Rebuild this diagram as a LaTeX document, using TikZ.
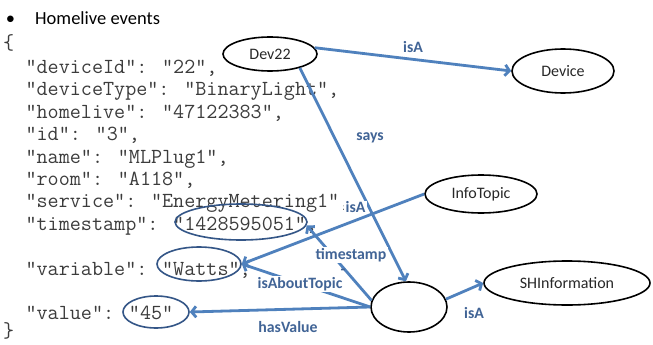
\documentclass[tikz,border=0pt]{standalone}
\usepackage{fontspec}
\setmainfont{Carlito}
\usetikzlibrary{shapes.geometric,arrows.meta}
\definecolor{conn}{RGB}{79,129,189}
\definecolor{ringblue}{RGB}{52,86,135}
\definecolor{lbl}{RGB}{65,100,150}
\definecolor{jsontext}{RGB}{60,60,60}
\definecolor{nodetext}{RGB}{40,40,40}
\begin{document}
\begin{tikzpicture}[x=1pt,y=-1pt,
  concept/.style={ellipse, draw=black, line width=1.6pt, inner sep=0pt, font=\fontsize{16}{18}\selectfont, text=nodetext},
  ring/.style={ellipse, draw=ringblue, line width=1.6pt, inner sep=0pt},
  link/.style={draw=conn, line width=2.8pt, -{Straight Barb[length=4.5pt,width=11pt]}},
  lab/.style={text=lbl, font=\bfseries\fontsize{15.8}{17}\selectfont, inner sep=1.2pt},
  json/.style={anchor=base west, inner sep=0pt, text=jsontext, font=\ttfamily\fontsize{21.5}{23}\selectfont},
]
\useasboundingbox (0,0) rectangle (653,345);
\fill[white] (0,0) rectangle (653,345);

% header
\node[anchor=base, inner sep=0pt, font=\fontsize{18.5}{20}\selectfont] (bul) at (10.5,25) {•};
\node[anchor=base west, inner sep=0pt, font=\fontsize{18.5}{20}\selectfont] (hdr) at (35,25) {Homelive events};

% JSON text
\node[json] (j0)  at (2.8,49.5)  {\{};
\node[json] (j1)  at (25.4,73.5) {"deviceId": "22",};
\node[json] (j2)  at (25.4,95.9) {"deviceType": "BinaryLight",};
\node[json] (j3)  at (25.4,118.3) {"homelive": "47122383",};
\node[json] (j4)  at (25.4,140.7) {"id": "3",};
\node[json] (j5)  at (25.4,163.1) {"name": "MLPlug1",};
\node[json] (j6)  at (25.4,185.5) {"room": "A118",};
\node[json] (j7)  at (25.4,207.9) {"service": "EnergyMetering1",};
\node[json] (j8)  at (25.4,230.3) {"timestamp": "1428595051",};
\node[json] (j9)  at (25.4,275.1) {"variable": "Watts",};
\node[json] (j10) at (25.4,319.9) {"value": "45"};
\node[json] (j11) at (2.8,337.5) {\}};

% concept nodes
\node[concept, minimum width=94pt, minimum height=34pt] (dev) at (270,54) {Dev22};
\node[concept, minimum width=102pt, minimum height=44pt] (device) at (563,71) {Device};
\node[concept, minimum width=112pt, minimum height=38pt] (info) at (481,194) {InfoTopic};
\node[concept, minimum width=166pt, minimum height=44pt] (shinfo) at (567,283) {SHInformation};
\node[concept, minimum width=76pt, minimum height=50pt] (obs) at (409,307) {};

% value rings
\node[ring, minimum width=132pt, minimum height=36pt] (ts) at (241,222) {};
\node[ring, minimum width=84pt, minimum height=34pt] (watts) at (199,264) {};
\node[ring, minimum width=66pt, minimum height=32pt] (v45) at (156,312) {};

% connectors
\draw[link] (dev.8) -- (device.west);
\draw[link] (dev.-25) -- (obs.97);
\draw[link] (info.west) -- (watts.east);
\draw[link] (obs.west) -- (watts.east);
\draw[link] (obs.170) -- (ts.-3);
\draw[link] (obs.west) -- (v45.east);
\draw[link] (obs.12) -- (shinfo.west);

% labels
\node[lab, fill=white] (lisa1) at (413,47) {isA};
\node[lab] (lsays) at (370,138) {says};
\node[lab, fill=white] (lisa2) at (355.5,207.5) {isA};
\node[lab, fill=white] (lts) at (351,255) {timestamp};
\node[lab, fill=white] (labt) at (300,284) {isAboutTopic};
\node[lab] (lhv) at (288,327) {hasValue};
\node[lab] (lisa3) at (474,313) {isA};
\node[lab] (ldash) at (343,271.5) {-};
\end{tikzpicture}
\end{document}
